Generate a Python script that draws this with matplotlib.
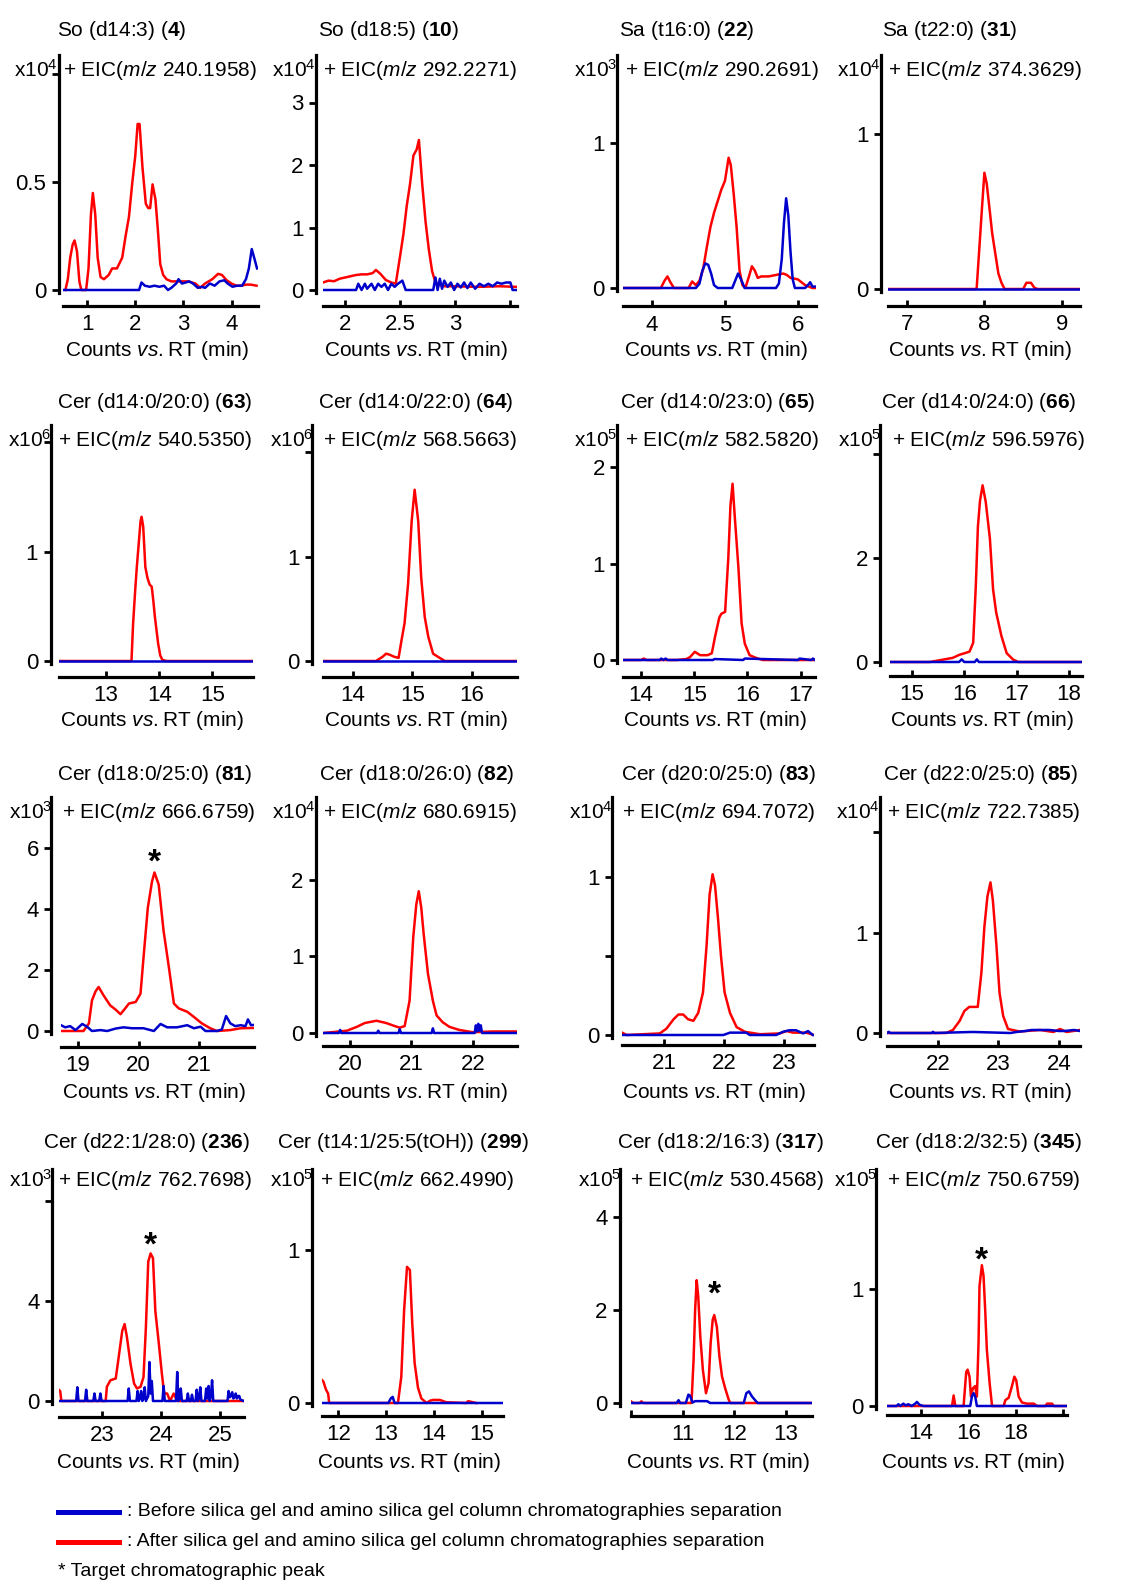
import numpy as np
import matplotlib
matplotlib.use('Agg')
import matplotlib.pyplot as plt
from matplotlib import font_manager
from matplotlib.lines import Line2D

# ---------------- data ----------------
titles = ["So (d14:3)", "So (d18:5)", "Sa (t16:0)", "Sa (t22:0)",
          "Cer (d14:0/20:0)", "Cer (d14:0/22:0)", "Cer (d14:0/23:0)", "Cer (d14:0/24:0)",
          "Cer (d18:0/25:0)", "Cer (d18:0/26:0)", "Cer (d20:0/25:0)", "Cer (d22:0/25:0)",
          "Cer (d22:1/28:0)", "Cer (t14:1/25:5(tOH))", "Cer (d18:2/16:3)", "Cer (d18:2/32:5)"]
compound_ids = ["4", "10", "22", "31", "63", "64", "65", "66",
                "81", "82", "83", "85", "236", "299", "317", "345"]
mz_values = ["240.1958", "292.2271", "290.2691", "374.3629", "540.5350", "568.5663",
             "582.5820", "596.5976", "666.6759", "680.6915", "694.7072", "722.7385",
             "762.7698", "662.4990", "530.4568", "750.6759"]
exponents = [4, 4, 3, 4, 6, 6, 5, 5, 3, 4, 4, 4, 3, 5, 5, 5]

# P1 So (d14:3)
p1_red_rt = [0.55, 0.6, 0.65, 0.7, 0.74, 0.79, 0.84, 0.88, 0.98, 1.03, 1.08, 1.12, 1.17, 1.22, 1.28,
             1.35, 1.45, 1.52, 1.62, 1.73, 1.8, 1.87, 1.94, 2.0, 2.05, 2.09, 2.15, 2.22, 2.27, 2.31,
             2.36, 2.42, 2.47, 2.52, 2.58, 2.65, 2.75, 2.9, 3.1, 3.25, 3.35, 3.45, 3.6, 3.72, 3.8,
             3.9, 4.0, 4.1, 4.2, 4.3, 4.4, 4.52]
p1_red = [0, 0.05, 0.15, 0.21, 0.23, 0.18, 0.04, 0.0, 0.0, 0.1, 0.35, 0.45, 0.35, 0.15, 0.06,
          0.05, 0.07, 0.1, 0.1, 0.15, 0.25, 0.34, 0.5, 0.62, 0.77, 0.77, 0.57, 0.4, 0.38, 0.38,
          0.49, 0.42, 0.28, 0.12, 0.07, 0.05, 0.04, 0.04, 0.04, 0.03, 0.01, 0.03, 0.05, 0.075, 0.07,
          0.045, 0.03, 0.02, 0.02, 0.025, 0.025, 0.02]
p1_blue_rt = [0.5, 2.08, 2.13, 2.2, 2.3, 2.4, 2.5, 2.6, 2.68, 2.75, 2.85, 2.9, 2.97, 3.05, 3.12,
              3.2, 3.3, 3.38, 3.45, 3.55, 3.65, 3.75, 3.85, 3.92, 4.02, 4.12, 4.22, 4.3, 4.36,
              4.42, 4.47, 4.53]
p1_blue = [0, 0, 0.035, 0.02, 0.015, 0.02, 0.015, 0.02, 0.0, 0.01, 0.03, 0.05, 0.03, 0.035, 0.04,
           0.03, 0.01, 0.015, 0.01, 0.03, 0.02, 0.04, 0.045, 0.03, 0.015, 0.02, 0.02, 0.05, 0.1,
           0.19, 0.15, 0.1]

# P2 So (d18:5)
p2_red_rt = [1.8, 1.85, 1.9, 1.95, 2.0, 2.05, 2.1, 2.15, 2.2, 2.25, 2.28, 2.32, 2.37, 2.42, 2.46,
             2.5, 2.53, 2.56, 2.59, 2.62, 2.65, 2.67, 2.7, 2.73, 2.76, 2.79, 2.82, 2.86, 2.9, 3.0,
             3.2, 3.4, 3.56]
p2_red = [0.12, 0.15, 0.14, 0.18, 0.2, 0.22, 0.24, 0.25, 0.25, 0.27, 0.32, 0.26, 0.16, 0.12, 0.1,
          0.55, 0.9, 1.35, 1.7, 2.15, 2.25, 2.4, 1.7, 1.1, 0.65, 0.3, 0.12, 0.08, 0.06, 0.06,
          0.05, 0.06, 0.05]
p2_blue_rt = [1.8, 2.1, 2.12, 2.15, 2.18, 2.2, 2.24, 2.27, 2.3, 2.33, 2.36, 2.39, 2.42, 2.45, 2.48,
              2.52, 2.55, 2.8, 2.82, 2.84, 2.86, 2.88, 2.9, 2.93, 2.96, 2.99, 3.02, 3.05, 3.08,
              3.11, 3.14, 3.18, 3.22, 3.26, 3.3, 3.34, 3.38, 3.42, 3.46, 3.5, 3.52, 3.56]
p2_blue = [0, 0, 0.1, 0.0, 0.1, 0.02, 0.1, 0.0, 0.1, 0.05, 0.1, 0.0, 0.1, 0.05, 0.1,
           0.15, 0.0, 0.0, 0.2, 0.0, 0.18, 0.02, 0.15, 0.05, 0.12, 0.0, 0.1, 0.04, 0.12,
           0.03, 0.12, 0.02, 0.1, 0.06, 0.1, 0.06, 0.12, 0.1, 0.12, 0.12, 0.0, 0.0]

# P3 Sa (t16:0)
p3_red_rt = [3.6, 4.12, 4.17, 4.21, 4.25, 4.3, 4.5, 4.55, 4.6, 4.65, 4.7, 4.75, 4.8, 4.85, 4.9,
             4.95, 5.0, 5.05, 5.08, 5.12, 5.16, 5.2, 5.24, 5.28, 5.33, 5.37, 5.41, 5.45, 5.5, 5.6,
             5.7, 5.8, 5.85, 5.9, 6.0, 6.1, 6.2, 6.25]
p3_red = [0, 0, 0.05, 0.08, 0.04, 0, 0, 0.045, 0.02, 0.05, 0.13, 0.28, 0.42, 0.52, 0.6,
          0.68, 0.74, 0.9, 0.85, 0.65, 0.42, 0.12, 0.02, 0.0, 0.08, 0.15, 0.12, 0.07, 0.08, 0.08,
          0.09, 0.1, 0.09, 0.07, 0.06, 0.02, 0.0, 0.0]
p3_blue_rt = [3.6, 4.6, 4.65, 4.69, 4.73, 4.77, 4.81, 4.85, 4.9, 5.1, 5.14, 5.18, 5.22, 5.27,
              5.7, 5.74, 5.78, 5.81, 5.84, 5.87, 5.9, 5.93, 5.96, 6.1, 6.14, 6.17, 6.2, 6.25]
p3_blue = [0, 0, 0.03, 0.12, 0.17, 0.16, 0.1, 0.02, 0, 0, 0.05, 0.1, 0.06, 0,
           0, 0.03, 0.2, 0.45, 0.62, 0.5, 0.25, 0.06, 0.0, 0, 0.02, 0.04, 0.01, 0.01]

# P4 Sa (t22:0)
p4_red_rt = [6.76, 7.9, 7.94, 7.97, 8.0, 8.03, 8.07, 8.1, 8.14, 8.18, 8.22, 8.26, 8.5, 8.54,
             8.6, 8.64, 8.68, 9.23]
p4_red = [0, 0, 0.3, 0.53, 0.75, 0.68, 0.5, 0.36, 0.23, 0.1, 0.04, 0.0, 0.0, 0.04,
          0.04, 0.01, 0.0, 0.0]
p4_blue_rt = [6.76, 9.23]
p4_blue = [0, 0]

# P5 Cer (d14:0/20:0)
p5_red_rt = [12.12, 13.48, 13.51, 13.55, 13.58, 13.62, 13.65, 13.67, 13.7, 13.74, 13.78, 13.82,
             13.86, 13.89, 13.92, 13.95, 13.98, 14.02, 14.06, 14.14, 15.76]
p5_red = [0, 0, 0.34, 0.65, 0.86, 1.1, 1.28, 1.32, 1.23, 0.86, 0.76, 0.7,
          0.68, 0.55, 0.4, 0.28, 0.16, 0.05, 0.01, 0, 0]
p5_blue_rt = [12.12, 15.76]
p5_blue = [0, 0]

# P6 Cer (d14:0/22:0)
p6_red_rt = [13.5, 14.39, 14.5, 14.56, 14.62, 14.7, 14.77, 14.82, 14.87, 14.93, 14.99, 15.04,
             15.1, 15.15, 15.21, 15.27, 15.35, 15.46, 15.55, 16.76]
p6_red = [0, 0, 0.04, 0.07, 0.06, 0.04, 0.03, 0.2, 0.36, 0.74, 1.34, 1.64,
          1.34, 0.8, 0.42, 0.23, 0.07, 0.03, 0, 0]
p6_blue_rt = [13.5, 16.76]
p6_blue = [0, 0]

# P7 Cer (d14:0/23:0)
p7_red_rt = [13.66, 14.0, 14.05, 14.1, 14.67, 14.85, 14.92, 15.01, 15.11, 15.25, 15.33, 15.39,
             15.47, 15.51, 15.58, 15.64, 15.68, 15.72, 15.76, 15.83, 15.89, 15.95, 16.04, 16.17,
             16.29, 17.27]
p7_red = [0, 0, 0.015, 0, 0, 0.01, 0.03, 0.085, 0.05, 0.05, 0.07, 0.24,
          0.44, 0.48, 0.5, 1.06, 1.6, 1.83, 1.5, 0.96, 0.38, 0.17, 0.05, 0.02,
          0, 0]
p7_blue_rt = [13.66, 14.35, 14.38, 14.42, 14.46, 14.5, 15.35, 15.38, 15.92, 15.95, 16.95, 16.98,
              17.2, 17.23, 17.27]
p7_blue = [0, 0, 0.015, 0, 0.015, 0, 0, 0.01, 0, 0.015, 0, 0.015, 0, 0.015, 0]

# P8 Cer (d14:0/24:0)
p8_red_rt = [14.58, 15.34, 15.59, 15.78, 15.91, 16.01, 16.1, 16.17, 16.22, 16.26, 16.3, 16.35,
             16.41, 16.49, 16.55, 16.61, 16.71, 16.81, 16.93, 17.03, 18.25]
p8_red = [0, 0, 0.045, 0.08, 0.14, 0.17, 0.2, 0.37, 1.46, 2.6, 3.1, 3.4,
          3.08, 2.37, 1.4, 0.95, 0.5, 0.17, 0.05, 0, 0]
p8_blue_rt = [14.58, 15.9, 15.95, 16.0, 16.2, 16.24, 16.28, 18.25]
p8_blue = [0, 0, 0.05, 0, 0, 0.05, 0, 0]

# P9 Cer (d18:0/25:0)
p9_red_rt = [18.72, 19.09, 19.18, 19.23, 19.29, 19.34, 19.42, 19.53, 19.62, 19.7, 19.77, 19.84,
             19.95, 20.03, 20.08, 20.15, 20.22, 20.26, 20.33, 20.41, 20.49, 20.58, 20.66, 20.8,
             20.91, 21.04, 21.18, 21.29, 21.51, 21.68, 21.9]
p9_red = [0, 0, 0.25, 1.0, 1.3, 1.44, 1.17, 0.84, 0.7, 0.55, 0.72, 0.9,
          0.95, 1.22, 2.41, 4.03, 4.9, 5.19, 4.79, 3.28, 2.19, 0.9, 0.74, 0.63,
          0.46, 0.25, 0.09, 0.0, 0.03, 0.09, 0.1]
p9_blue_rt = [18.72, 18.79, 18.87, 18.96, 19.07, 19.15, 19.23, 19.37, 19.48, 19.62, 19.75, 19.89,
              20.08, 20.25, 20.36, 20.47, 20.63, 20.8, 20.91, 21.02, 21.1, 21.29, 21.37, 21.44,
              21.51, 21.59, 21.68, 21.76, 21.8, 21.85, 21.9]
p9_blue = [0.19, 0.12, 0.16, 0.03, 0.23, 0.14, 0.0, 0.03, 0.0, 0.08, 0.12, 0.09,
           0.09, 0.0, 0.23, 0.12, 0.12, 0.19, 0.09, 0.14, 0.0, 0.0, 0.05, 0.49,
           0.25, 0.16, 0.19, 0.16, 0.38, 0.19, 0.2]

# P10 Cer (d18:0/26:0)
p10_red_rt = [19.57, 19.95, 20.11, 20.24, 20.43, 20.59, 20.73, 20.81, 20.89, 20.97, 21.03, 21.08,
              21.12, 21.16, 21.2, 21.27, 21.35, 21.41, 21.51, 21.62, 21.78, 22.0, 22.32, 22.72]
p10_red = [0, 0.03, 0.08, 0.13, 0.16, 0.13, 0.09, 0.07, 0.09, 0.42, 1.25, 1.68,
           1.85, 1.64, 1.29, 0.77, 0.42, 0.23, 0.14, 0.08, 0.04, 0.01, 0.02, 0.02]
p10_blue_rt = [19.56, 19.82, 19.84, 19.86, 20.44, 20.46, 20.48, 20.79, 20.81, 20.83, 21.33, 21.35,
               21.37, 22.03, 22.05, 22.07, 22.09, 22.11, 22.13, 22.15, 22.72]
p10_blue = [0, 0, 0.04, 0, 0, 0.03, 0, 0, 0.05, 0, 0, 0.06,
            0, 0, 0.1, 0.02, 0.12, 0.03, 0.1, 0, 0]

# P11 Cer (d20:0/25:0)
p11_red_rt = [20.3, 20.38, 20.93, 21.04, 21.16, 21.24, 21.32, 21.4, 21.49, 21.57, 21.65, 21.71,
              21.76, 21.81, 21.85, 21.9, 21.95, 22.01, 22.1, 22.21, 22.35, 22.6, 22.93, 23.04,
              23.15, 23.37, 23.5]
p11_red = [0.015, 0, 0.01, 0.04, 0.1, 0.13, 0.13, 0.1, 0.09, 0.14, 0.27, 0.57,
           0.89, 1.02, 0.95, 0.74, 0.5, 0.27, 0.14, 0.05, 0.02, 0.005, 0.01, 0.025,
           0.015, 0.015, 0]
p11_blue_rt = [20.3, 21.99, 22.1, 22.37, 22.43, 22.87, 22.98, 23.09, 23.2, 23.32, 23.4, 23.48]
p11_blue = [0.0, 0.0, 0.015, 0.015, 0.0, 0.0, 0.02, 0.03, 0.03, 0.01, 0.025, 0.0]

# P12 Cer (d22:0/25:0)
p12_red_rt = [21.16, 22.14, 22.25, 22.36, 22.44, 22.52, 22.66, 22.72, 22.77, 22.82, 22.87, 22.91,
              22.97, 23.02, 23.08, 23.16, 23.35, 23.69, 23.91, 24.02, 24.13, 24.35]
p12_red = [0, 0, 0.03, 0.12, 0.22, 0.26, 0.26, 0.6, 1.06, 1.36, 1.5, 1.32,
           0.86, 0.4, 0.17, 0.04, 0.015, 0.03, 0.01, 0.04, 0.01, 0.03]
p12_blue_rt = [21.16, 21.19, 21.21, 21.9, 21.92, 21.94, 22.55, 22.6, 23.2, 23.3, 23.45, 23.55,
               23.85, 24.0, 24.1, 24.25, 24.35]
p12_blue = [0, 0.012, 0, 0, 0.012, 0, 0.01, 0.01, 0.0, 0.01, 0.02, 0.03,
            0.03, 0.02, 0.02, 0.03, 0.02]

# P13 Cer (d22:1/28:0)
p13_red_rt = [22.27, 22.29, 22.31, 23.06, 23.08, 23.14, 23.23, 23.28, 23.34, 23.38, 23.42, 23.48,
              23.54, 23.59, 23.65, 23.7, 23.74, 23.78, 23.82, 23.86, 23.9, 23.96, 24.01, 24.05,
              24.1, 24.15, 24.21, 24.27, 25.4]
p13_red = [0.44, 0.4, 0, 0, 0.57, 0.83, 0.9, 1.76, 2.81, 3.08, 2.55, 1.49,
           0.7, 0.5, 0.57, 0.96, 2.94, 5.58, 5.91, 5.72, 3.6, 2.28, 1.1, 0.3,
           0.3, 0, 0.3, 0, 0]
p13_blue_rt = [22.27, 22.56, 22.58, 22.6, 22.71, 22.73, 22.75, 22.85, 22.87, 22.89,
               22.95, 22.97, 22.99, 23.43, 23.45, 23.47, 23.58, 23.6, 23.62, 23.64,
               23.66, 23.68, 23.7, 23.72, 23.74, 23.78, 23.8, 23.82, 23.84, 23.86,
               24.02, 24.04, 24.06, 24.25, 24.27, 24.29, 24.31, 24.33, 24.35, 24.43,
               24.45, 24.47, 24.5, 24.52, 24.54, 24.58, 24.6, 24.62, 24.64, 24.66,
               24.68, 24.74, 24.76, 24.78, 24.8, 24.82, 24.84, 24.86, 24.88, 25.12,
               25.14, 25.16, 25.18, 25.2, 25.22, 25.24, 25.26, 25.28, 25.3, 25.32,
               25.34, 25.4]
p13_blue = [0, 0, 0.55, 0, 0, 0.45, 0, 0, 0.3, 0,
            0, 0.3, 0, 0, 0.5, 0, 0, 0.4, 0, 0.1,
            0.4, 0, 0.1, 0.55, 0, 0.2, 1.56, 0.3, 0.8, 0,
            0, 0.6, 0, 0, 1.16, 0, 0.1, 0.5, 0, 0,
            0.3, 0, 0, 0.25, 0, 0, 0.45, 0, 0.1, 0.55,
            0, 0, 0.5, 0.1, 0.6, 0, 0.2, 0.83, 0, 0,
            0.4, 0.15, 0.2, 0.35, 0.1, 0.15, 0.3, 0.1, 0.2, 0.2,
            0.05, 0]

# P14 Cer (t14:1/25:5(tOH))
p14_red_rt = [11.63, 11.69, 11.74, 11.79, 11.81, 13.25, 13.32, 13.38, 13.44, 13.5, 13.55, 13.6,
              13.67, 13.74, 13.85, 13.92, 13.99, 14.13, 14.26, 14.68, 14.72, 14.82, 14.89]
p14_red = [0.16, 0.14, 0.09, 0.06, 0, 0, 0.17, 0.61, 0.89, 0.87, 0.52, 0.26,
           0.1, 0.03, 0, 0.015, 0.02, 0.02, 0.005, 0, 0.012, 0.005, 0]
p14_blue_rt = [11.66, 13.05, 13.1, 13.14, 13.18, 15.45]
p14_blue = [0, 0, 0.03, 0.04, 0, 0]

# P15 Cer (d18:2/16:3)
p15_red_rt = [10.0, 10.04, 10.17, 10.2, 10.24, 11.17, 11.21, 11.24, 11.27, 11.3, 11.34, 11.39,
              11.45, 11.5, 11.54, 11.58, 11.61, 11.66, 11.71, 11.76, 11.82, 11.89, 11.92, 13.5]
p15_red = [0.035, 0, 0, 0.035, 0, 0, 0.93, 2.0, 2.64, 2.29, 1.43, 0.71,
           0.21, 0.43, 1.29, 1.79, 1.89, 1.64, 1.0, 0.57, 0.32, 0.07, 0, 0]
p15_blue_rt = [10.0, 10.88, 10.92, 10.95, 11.06, 11.11, 11.14, 11.19, 11.24, 11.47, 11.53, 12.18,
               12.23, 12.28, 12.34, 12.4, 12.45, 13.5]
p15_blue = [0, 0, 0.06, 0, 0, 0.18, 0.16, 0.01, 0.04, 0.04, 0, 0,
            0.21, 0.25, 0.14, 0.06, 0, 0]

# P16 Cer (d18:2/32:5)
p16_red_rt = [12.56, 15.3, 15.37, 15.44, 15.79, 15.9, 15.96, 16.04, 16.1, 16.18, 16.28, 16.35,
              16.42, 16.46, 16.56, 16.63, 16.7, 16.77, 16.89, 16.99, 17.48, 17.55, 17.69, 17.83,
              17.93, 18.01, 18.11, 18.25, 18.46, 18.75, 18.89, 19.24, 19.31, 19.52, 19.59, 20.15]
p16_red = [0, 0, 0.09, 0, 0, 0.29, 0.31, 0.25, 0.08, 0.15, 0.17, 0.08,
           0.54, 1.02, 1.2, 1.11, 0.82, 0.48, 0.19, 0, 0, 0.05, 0.07, 0.17,
           0.25, 0.22, 0.08, 0.03, 0.02, 0.02, 0, 0, 0.02, 0.02, 0, 0]
p16_blue_rt = [12.56, 12.97, 13.04, 13.12, 13.25, 13.35, 13.46, 13.6, 13.75, 13.82, 13.93, 14.1,
               16.07, 16.14, 16.21, 16.28, 16.35, 20.15]
p16_blue = [0, 0, 0.015, 0, 0.02, 0.005, 0.015, 0, 0.02, 0.035, 0.01, 0,
            0, 0.08, 0.11, 0.08, 0, 0]

# target chromatographic peaks (RT, min); None = no marker
star_rt = [None, None, None, None, None, None, None, None,
           20.26, None, None, None, 23.82, None, 11.61, 16.56]

# axis ticks
x_ticks = [[1, 2, 3, 4], [2, 2.5, 3, 3.5], [4, 5, 6], [7, 8, 9],
           [13, 14, 15], [14, 15, 16], [14, 15, 16, 17], [15, 16, 17, 18],
           [19, 20, 21], [20, 21, 22], [21, 22, 23], [22, 23, 24],
           [23, 24, 25], [12, 13, 14, 15], [10, 11, 12, 13], [14, 16, 18, 20]]
x_ticklabels = [["1", "2", "3", "4"], ["2", "2.5", "3", ""], ["4", "5", "6"], ["7", "8", "9"],
                ["13", "14", "15"], ["14", "15", "16"], ["14", "15", "16", "17"], ["15", "16", "17", "18"],
                ["19", "20", "21"], ["20", "21", "22"], ["21", "22", "23"], ["22", "23", "24"],
                ["23", "24", "25"], ["12", "13", "14", "15"], ["", "11", "12", "13"], ["14", "16", "18", ""]]
y_ticks = [[0, 0.5, 1], [0, 1, 2, 3], [0, 1], [0, 1],
           [0, 1, 2], [0, 1, 2], [0, 1, 2], [0, 2, 4],
           [0, 2, 4, 6], [0, 1, 2], [0, 0.5, 1], [0, 1, 2],
           [0, 4, 8], [0, 1], [0, 2, 4], [0, 1]]
y_ticklabels = [["0", "0.5", ""], ["0", "1", "2", "3"], ["0", "1"], ["0", "1"],
                ["0", "1", ""], ["0", "1", ""], ["0", "1", "2"], ["0", "2", ""],
                ["0", "2", "4", "6"], ["0", "1", "2"], ["0", "", "1"], ["0", "1", ""],
                ["0", "4", ""], ["0", "1"], ["0", "2", "4"], ["0", "1"]]

red_rt = [p1_red_rt, p2_red_rt, p3_red_rt, p4_red_rt, p5_red_rt, p6_red_rt, p7_red_rt, p8_red_rt,
          p9_red_rt, p10_red_rt, p11_red_rt, p12_red_rt, p13_red_rt, p14_red_rt, p15_red_rt, p16_red_rt]
red_y = [p1_red, p2_red, p3_red, p4_red, p5_red, p6_red, p7_red, p8_red,
         p9_red, p10_red, p11_red, p12_red, p13_red, p14_red, p15_red, p16_red]
blue_rt = [p1_blue_rt, p2_blue_rt, p3_blue_rt, p4_blue_rt, p5_blue_rt, p6_blue_rt, p7_blue_rt, p8_blue_rt,
           p9_blue_rt, p10_blue_rt, p11_blue_rt, p12_blue_rt, p13_blue_rt, p14_blue_rt, p15_blue_rt, p16_blue_rt]
blue_y = [p1_blue, p2_blue, p3_blue, p4_blue, p5_blue, p6_blue, p7_blue, p8_blue,
          p9_blue, p10_blue, p11_blue, p12_blue, p13_blue, p14_blue, p15_blue, p16_blue]

# ---------------- layout (pixels in a 1125 x 1583 canvas) ----------------
W, H = 1125, 1583
spine_x = [60, 318, 619, 883, 53, 315, 619, 883, 54, 318, 615, 882, 54, 315, 623, 879]
ax_left = [63, 323, 623, 888, 59, 323, 623, 890, 61, 323, 622, 887, 59, 322, 631, 887]
ax_right = [258, 517, 816, 1080, 253, 517, 815, 1082, 254, 517, 814, 1080, 244, 503, 812, 1067]
zero_px = [290, 290, 288, 289, 661, 661, 660, 662, 1031, 1033, 1035, 1033, 1401, 1403, 1403, 1406]
top_px = [55, 425, 797, 1169]
xaxis_px = [302, 673, 1043, 1413]
title_y = [30, 403, 775, 1143]
eic_y = [70, 440, 812, 1180]
xlabel_y = [350, 720, 1093, 1463]
title_x = [57, 318, 619, 882, 57, 318, 620, 881, 57, 319, 621, 883, 43, 277, 617, 875]
eic_x = [63, 323, 625, 888, 58, 323, 625, 892, 62, 323, 622, 887, 58, 320, 630, 887]
xlims = [(0.5, 4.55), (1.8, 3.56), (3.6, 6.25), (6.76, 9.23), (12.12, 15.76), (13.5, 16.76),
         (13.66, 17.27), (14.58, 18.25), (18.72, 21.9), (19.56, 22.72), (20.3, 23.5),
         (21.16, 24.35), (22.27, 25.4), (11.66, 15.45), (10.0, 13.5), (12.56, 20.15)]
ymaxs = [1.09, 3.76, 1.61, 1.51, 2.16, 2.26, 2.44, 4.56, 7.66, 3.08, 1.51, 2.35, 9.29, 1.53, 5.03, 2.02]
star_dy_px = [0, 0, 0, 0, 0, 0, 0, 0, 1, 0, 0, 0, -1, 0, 12, -4]

RED = '#ff0000'
BLUE = '#0000cc'

# ---------------- fonts ----------------
names = {f.name for f in font_manager.fontManager.ttflist}
if 'Liberation Sans Narrow' in names:
    FAM, FS, TFS, LFS = 'Liberation Sans Narrow', 17.5, 18, 15
else:
    FAM, FS, TFS, LFS = 'Liberation Sans', 15, 16, 14
plt.rcParams['font.family'] = [FAM, 'DejaVu Sans']
plt.rcParams['mathtext.fontset'] = 'custom'
plt.rcParams['mathtext.rm'] = FAM
plt.rcParams['mathtext.it'] = FAM + ':italic'
plt.rcParams['mathtext.bf'] = FAM + ':bold'

fig = plt.figure(figsize=(W / 100, H / 100), dpi=100)


def fx(px):
    return px / W


def fy(py):
    return 1 - py / H


PAD = 3
for i in range(16):
    r = i // 4
    x0, x1 = ax_left[i], ax_right[i]
    z, t = zero_px[i], top_px[r]
    ymax = ymaxs[i]
    unit = (z - t) / ymax
    ax = fig.add_axes([fx(x0), fy(z + PAD), (x1 - x0) / W, (z + PAD - t) / H])
    ax.set_xlim(*xlims[i])
    ax.set_ylim(-PAD / unit, ymax)
    ax.patch.set_alpha(0)
    ax.plot(red_rt[i], red_y[i], color=RED, lw=1.8, solid_joinstyle='round', zorder=3)
    ax.plot(blue_rt[i], blue_y[i], color=BLUE, lw=1.8, solid_joinstyle='round', zorder=4)
    for s in ('top', 'right'):
        ax.spines[s].set_visible(False)
    ax.spines['left'].set_position(('outward', x0 - spine_x[i]))
    ax.spines['bottom'].set_position(('outward', max(0, xaxis_px[r] - (z + PAD))))
    ax.spines['left'].set_linewidth(2.3)
    ax.spines['bottom'].set_linewidth(2.3)
    ax.set_xticks(x_ticks[i])
    ax.set_xticklabels(x_ticklabels[i])
    ax.set_yticks(y_ticks[i])
    ax.set_yticklabels(y_ticklabels[i])
    ax.tick_params(axis='y', direction='out', length=5, width=2, labelsize=TFS, pad=4)
    ax.tick_params(axis='x', direction='in', length=4, width=2, labelsize=TFS, pad=6)

    if star_rt[i] is not None:
        sy = float(np.interp(star_rt[i], red_rt[i], red_y[i]))
        ax.annotate('*', xy=(star_rt[i], sy), xytext=(0, star_dy_px[i] * 0.72),
                    textcoords='offset points', ha='center', va='baseline',
                    fontsize=24, fontweight='bold', family='Liberation Sans', zorder=5)

    fig.text(fx(title_x[i]), fy(title_y[r]),
             titles[i] + r' ($\mathbf{' + compound_ids[i] + r'}$)',
             ha='left', va='center', fontsize=FS)
    fig.text(fx(eic_x[i]), fy(eic_y[r]),
             r'+ EIC($\mathit{m/z}$ ' + mz_values[i] + ')',
             ha='left', va='center', fontsize=FS)
    fig.text(fx(spine_x[i] - 2), fy(eic_y[r]),
             r'x10$^{' + str(exponents[i]) + r'}$',
             ha='right', va='center', fontsize=FS)
    fig.text(fx((x0 + x1) / 2 - 4), fy(xlabel_y[r]),
             r'$\mathrm{Counts\ }\mathit{vs.}\!\!\mathrm{\ RT\ (min)}$',
             ha='center', va='center', fontsize=FS)

# ---------------- legend ----------------
fig.add_artist(Line2D([fx(58), fx(119)], [fy(1512), fy(1512)], color=BLUE, lw=3.6,
                      transform=fig.transFigure))
fig.add_artist(Line2D([fx(58), fx(119)], [fy(1542), fy(1542)], color=RED, lw=3.6,
                      transform=fig.transFigure))
fig.text(fx(127), fy(1512), ': Before silica gel and amino silica gel column chromatographies separation',
         ha='left', va='center', fontsize=LFS)
fig.text(fx(127), fy(1542), ': After silica gel and amino silica gel column chromatographies separation',
         ha='left', va='center', fontsize=LFS)
fig.text(fx(58), fy(1571), '* Target chromatographic peak', ha='left', va='center', fontsize=LFS)

fig.savefig('out.png', dpi=100)
